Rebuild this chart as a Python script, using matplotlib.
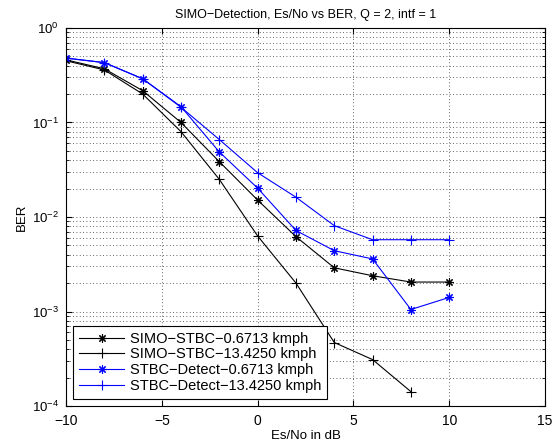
import matplotlib
matplotlib.use("Agg")
import matplotlib.pyplot as plt
from matplotlib.ticker import LogLocator, NullFormatter, FixedLocator

plt.rcParams['font.family'] = ['Liberation Sans', 'DejaVu Sans']
plt.rcParams['mathtext.fontset'] = 'custom'
plt.rcParams['mathtext.rm'] = 'Liberation Sans'
plt.rcParams['mathtext.it'] = 'Liberation Sans'
plt.rcParams['axes.unicode_minus'] = True

# Es/No sweep (dB)
esno = [-10, -8, -6, -4, -2, 0, 2, 4, 6, 8, 10]
esno_fast_simo = [-10, -8, -6, -4, -2, 0, 2, 4, 6, 8]

# BER curves
ber_simo_slow = [0.46, 0.37, 0.217, 0.100, 0.0385, 0.0151, 0.0062, 0.0029, 0.00239, 0.00205, 0.00205]
ber_simo_fast = [0.45, 0.36, 0.200, 0.080, 0.0250, 0.0063, 0.0020, 0.00047, 0.00031, 0.000142]
ber_det_slow = [0.48, 0.43, 0.290, 0.147, 0.0488, 0.0202, 0.0072, 0.0044, 0.0036, 0.00105, 0.00141]
ber_det_fast = [0.48, 0.43, 0.290, 0.145, 0.0660, 0.0294, 0.0162, 0.0081, 0.00575, 0.00575, 0.00575]

labels = ['SIMO\u2212STBC\u22120.6713 kmph', 'SIMO\u2212STBC\u221213.4250 kmph',
          'STBC\u2212Detect\u22120.6713 kmph', 'STBC\u2212Detect\u221213.4250 kmph']
title = 'SIMO\u2212Detection, Es/No vs BER, Q = 2, intf = 1'

fig = plt.figure(figsize=(5.55, 4.42), dpi=100)
ax = fig.add_axes([0.119, 0.0814, 0.863, 0.8553])

asterisk = (8, 2, 0)
ax.semilogy(esno, ber_simo_slow, color='k', lw=0.8, marker=asterisk, ms=6, mew=0.8, label=labels[0])
ax.semilogy(esno_fast_simo, ber_simo_fast, color='k', lw=0.8, marker='+', ms=7, mew=0.8, label=labels[1])
ax.semilogy(esno, ber_det_slow, color='b', lw=0.8, marker=asterisk, ms=6, mew=0.8, label=labels[2])
ax.semilogy(esno, ber_det_fast, color='b', lw=0.8, marker='+', ms=7, mew=0.8, label=labels[3])

ax.set_xlim(-10, 15)
ax.set_ylim(1e-4, 1)
ax.xaxis.set_major_locator(FixedLocator([-10, -5, 0, 5, 10, 15]))
ax.yaxis.set_major_locator(LogLocator(base=10, numticks=10))
ax.yaxis.set_minor_locator(LogLocator(base=10, subs=range(2, 10), numticks=20))
ax.yaxis.set_minor_formatter(NullFormatter())

ax.grid(True, which='major', linestyle=(0, (1, 3)), color='#333333', lw=0.6)
ax.grid(True, which='minor', axis='y', linestyle=(0, (1, 3)), color='#333333', lw=0.6)

ax.tick_params(which='both', direction='in', top=True, right=True)
ax.tick_params(axis='x', which='major', labelsize=10, pad=6)
ax.tick_params(axis='y', which='major', labelsize=9.5, pad=5)
ax.tick_params(which='major', length=4)
ax.tick_params(which='minor', length=2)
for s in ax.spines.values():
    s.set_linewidth(0.8)

ax.set_xlabel('Es/No in dB', fontsize=9.5, labelpad=1)
ax.set_ylabel('BER', fontsize=9.5, labelpad=3)
ax.set_title(title, fontsize=9, pad=7)

leg = ax.legend(loc='lower left', fontsize=10.5, fancybox=False, edgecolor='k',
                framealpha=1, borderaxespad=0.5, handlelength=3.1,
                borderpad=0.4, labelspacing=0.12, handletextpad=0.4)
leg.get_frame().set_linewidth(0.8)

fig.savefig('out.png', dpi=100)
